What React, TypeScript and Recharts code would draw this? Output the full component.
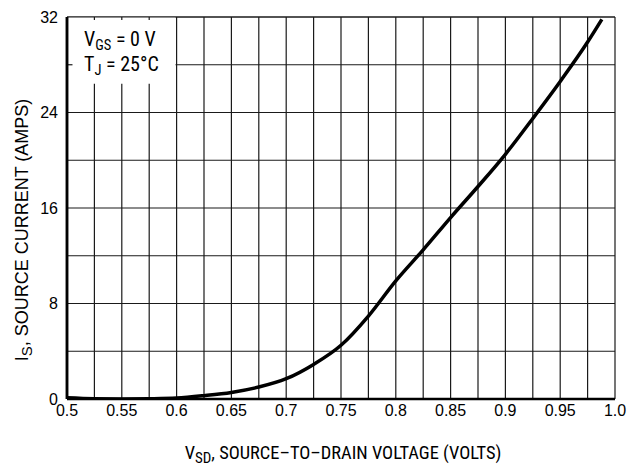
import { CartesianGrid, Label, Line, LineChart, ReferenceArea, ReferenceLine, XAxis, YAxis } from "recharts";

// source-drain diode forward voltage
const voltage = [0.5, 0.525, 0.55, 0.575, 0.6, 0.625, 0.65, 0.675, 0.7, 0.725, 0.75, 0.775, 0.8, 0.825, 0.85, 0.875, 0.9, 0.925, 0.95, 0.975, 0.988];
const current = [0.1, 0.02, 0, 0.02, 0.08, 0.28, 0.55, 1.0, 1.7, 2.9, 4.5, 6.95, 9.9, 12.5, 15.2, 17.8, 20.5, 23.5, 26.6, 29.9, 31.8];

const xTicks = [0.5, 0.525, 0.55, 0.575, 0.6, 0.625, 0.65, 0.675, 0.7, 0.725, 0.75, 0.775, 0.8, 0.825, 0.85, 0.875, 0.9, 0.925, 0.95, 0.975, 1.0];
const xTickLabels = ["0.5", "", "0.55", "", "0.6", "", "0.65", "", "0.7", "", "0.75", "", "0.8", "", "0.85", "", "0.9", "", "0.95", "", "1.0"];
const yTicks = [0, 4, 8, 12, 16, 20, 24, 28, 32];
const yTickLabels = ["0", "", "8", "", "16", "", "24", "", "32"];

// white legend box in the top-left corner
const boxX = [0.5, 0.6];
const boxY = [26.4, 32];

const data = voltage.map((v, i) => ({ v, is: current[i] }));

const NARROW = "'Roboto Condensed', 'Liberation Sans Narrow', sans-serif";
const REGULAR = "'Liberation Sans', Arial, sans-serif";

function BoxLabel(props: any) {
  const vb = props.viewBox || { x: 0, y: 0 };
  const x = vb.x + 17;
  return (
    <g fontFamily={NARROW} fill="#000">
      <text x={x} y={vb.y + 29} fontSize={20}>
        V<tspan fontSize={14.5} dy={4}>GS</tspan>
        <tspan dy={-4}> = 0 V</tspan>
      </text>
      <text x={x} y={vb.y + 54} fontSize={20}>
        T<tspan fontSize={14.5} dy={4}>J</tspan>
        <tspan dy={-4}> = 25°C</tspan>
      </text>
    </g>
  );
}

function XTitle(props: any) {
  const vb = props.viewBox || { x: 0, y: 0, width: 0 };
  return (
    <text x={vb.x + vb.width / 2 + 2} y={vb.y + 60} textAnchor="middle" fontFamily={NARROW} fontSize={18.4} fill="#000">
      V<tspan fontSize={15} dy={4}>SD</tspan>
      <tspan dy={-4}>, SOURCE–TO–DRAIN VOLTAGE (VOLTS)</tspan>
    </text>
  );
}

function YTitle() {
  const cx = 28;
  const cy = 230;
  return (
    <text x={cx} y={cy} transform={`rotate(-90 ${cx} ${cy})`} textAnchor="middle" fontFamily={REGULAR} fontSize={18} fill="#000">
      I<tspan fontSize={15} dy={4}>S</tspan>
      <tspan dy={-4}>, SOURCE CURRENT (AMPS)</tspan>
    </text>
  );
}

export default function App() {
  const tickStyle = { fill: "#000", fontSize: 16, fontFamily: REGULAR };
  return (
    <div style={{ position: "absolute", left: 0, top: 0, width: 633, height: 467, background: "#fff" }}>
      <LineChart width={633} height={467} data={data} margin={{ top: 17, right: 18, left: 0, bottom: 0 }}>
        <CartesianGrid stroke="#1a1a1a" strokeWidth={1.2} />
        <XAxis
          type="number"
          dataKey="v"
          domain={[0.5, 1.0]}
          ticks={xTicks}
          interval={0}
          tickFormatter={(_v: number, i: number) => xTickLabels[i]}
          tick={tickStyle}
          tickLine={false}
          tickSize={0}
          tickMargin={6}
          height={68}
          axisLine={{ stroke: "#000", strokeWidth: 2.5 }}
          allowDataOverflow
        >
          <Label content={<XTitle />} />
        </XAxis>
        <YAxis
          type="number"
          domain={[0, 32]}
          ticks={yTicks}
          interval={0}
          tickFormatter={(_v: number, i: number) => yTickLabels[i]}
          tick={tickStyle}
          tickLine={false}
          tickSize={0}
          tickMargin={9}
          width={67}
          axisLine={{ stroke: "#000", strokeWidth: 2.5 }}
          allowDataOverflow
        >
          <Label content={<YTitle />} />
        </YAxis>
        <ReferenceArea x1={boxX[0]} x2={boxX[1] - 0.001} y1={boxY[0]} y2={boxY[1]} fill="#fff" fillOpacity={1} stroke="none" label={<BoxLabel />} />
        <ReferenceLine y={boxY[1]} stroke="#1a1a1a" strokeWidth={1.2} />
        {xTicks
          .filter((t) => t > boxX[0] && t < boxX[1])
          .map((t) => (
            <ReferenceLine key={`tx${t}`} segment={[{ x: t, y: boxY[1] }, { x: t, y: boxY[1] - 0.25 }]} stroke="#1a1a1a" strokeWidth={1.2} />
          ))}
        {yTicks
          .filter((t) => t > boxY[0] && t < boxY[1])
          .map((t) => (
            <ReferenceLine key={`ty${t}`} segment={[{ x: boxX[0], y: t }, { x: boxX[0] + 0.005, y: t }]} stroke="#1a1a1a" strokeWidth={1.2} />
          ))}
        <ReferenceLine x={boxX[0]} stroke="#000" strokeWidth={2.5} />
        <Line type="monotone" dataKey="is" stroke="#000" strokeWidth={3.5} dot={false} isAnimationActive={false} />
      </LineChart>
    </div>
  );
}
